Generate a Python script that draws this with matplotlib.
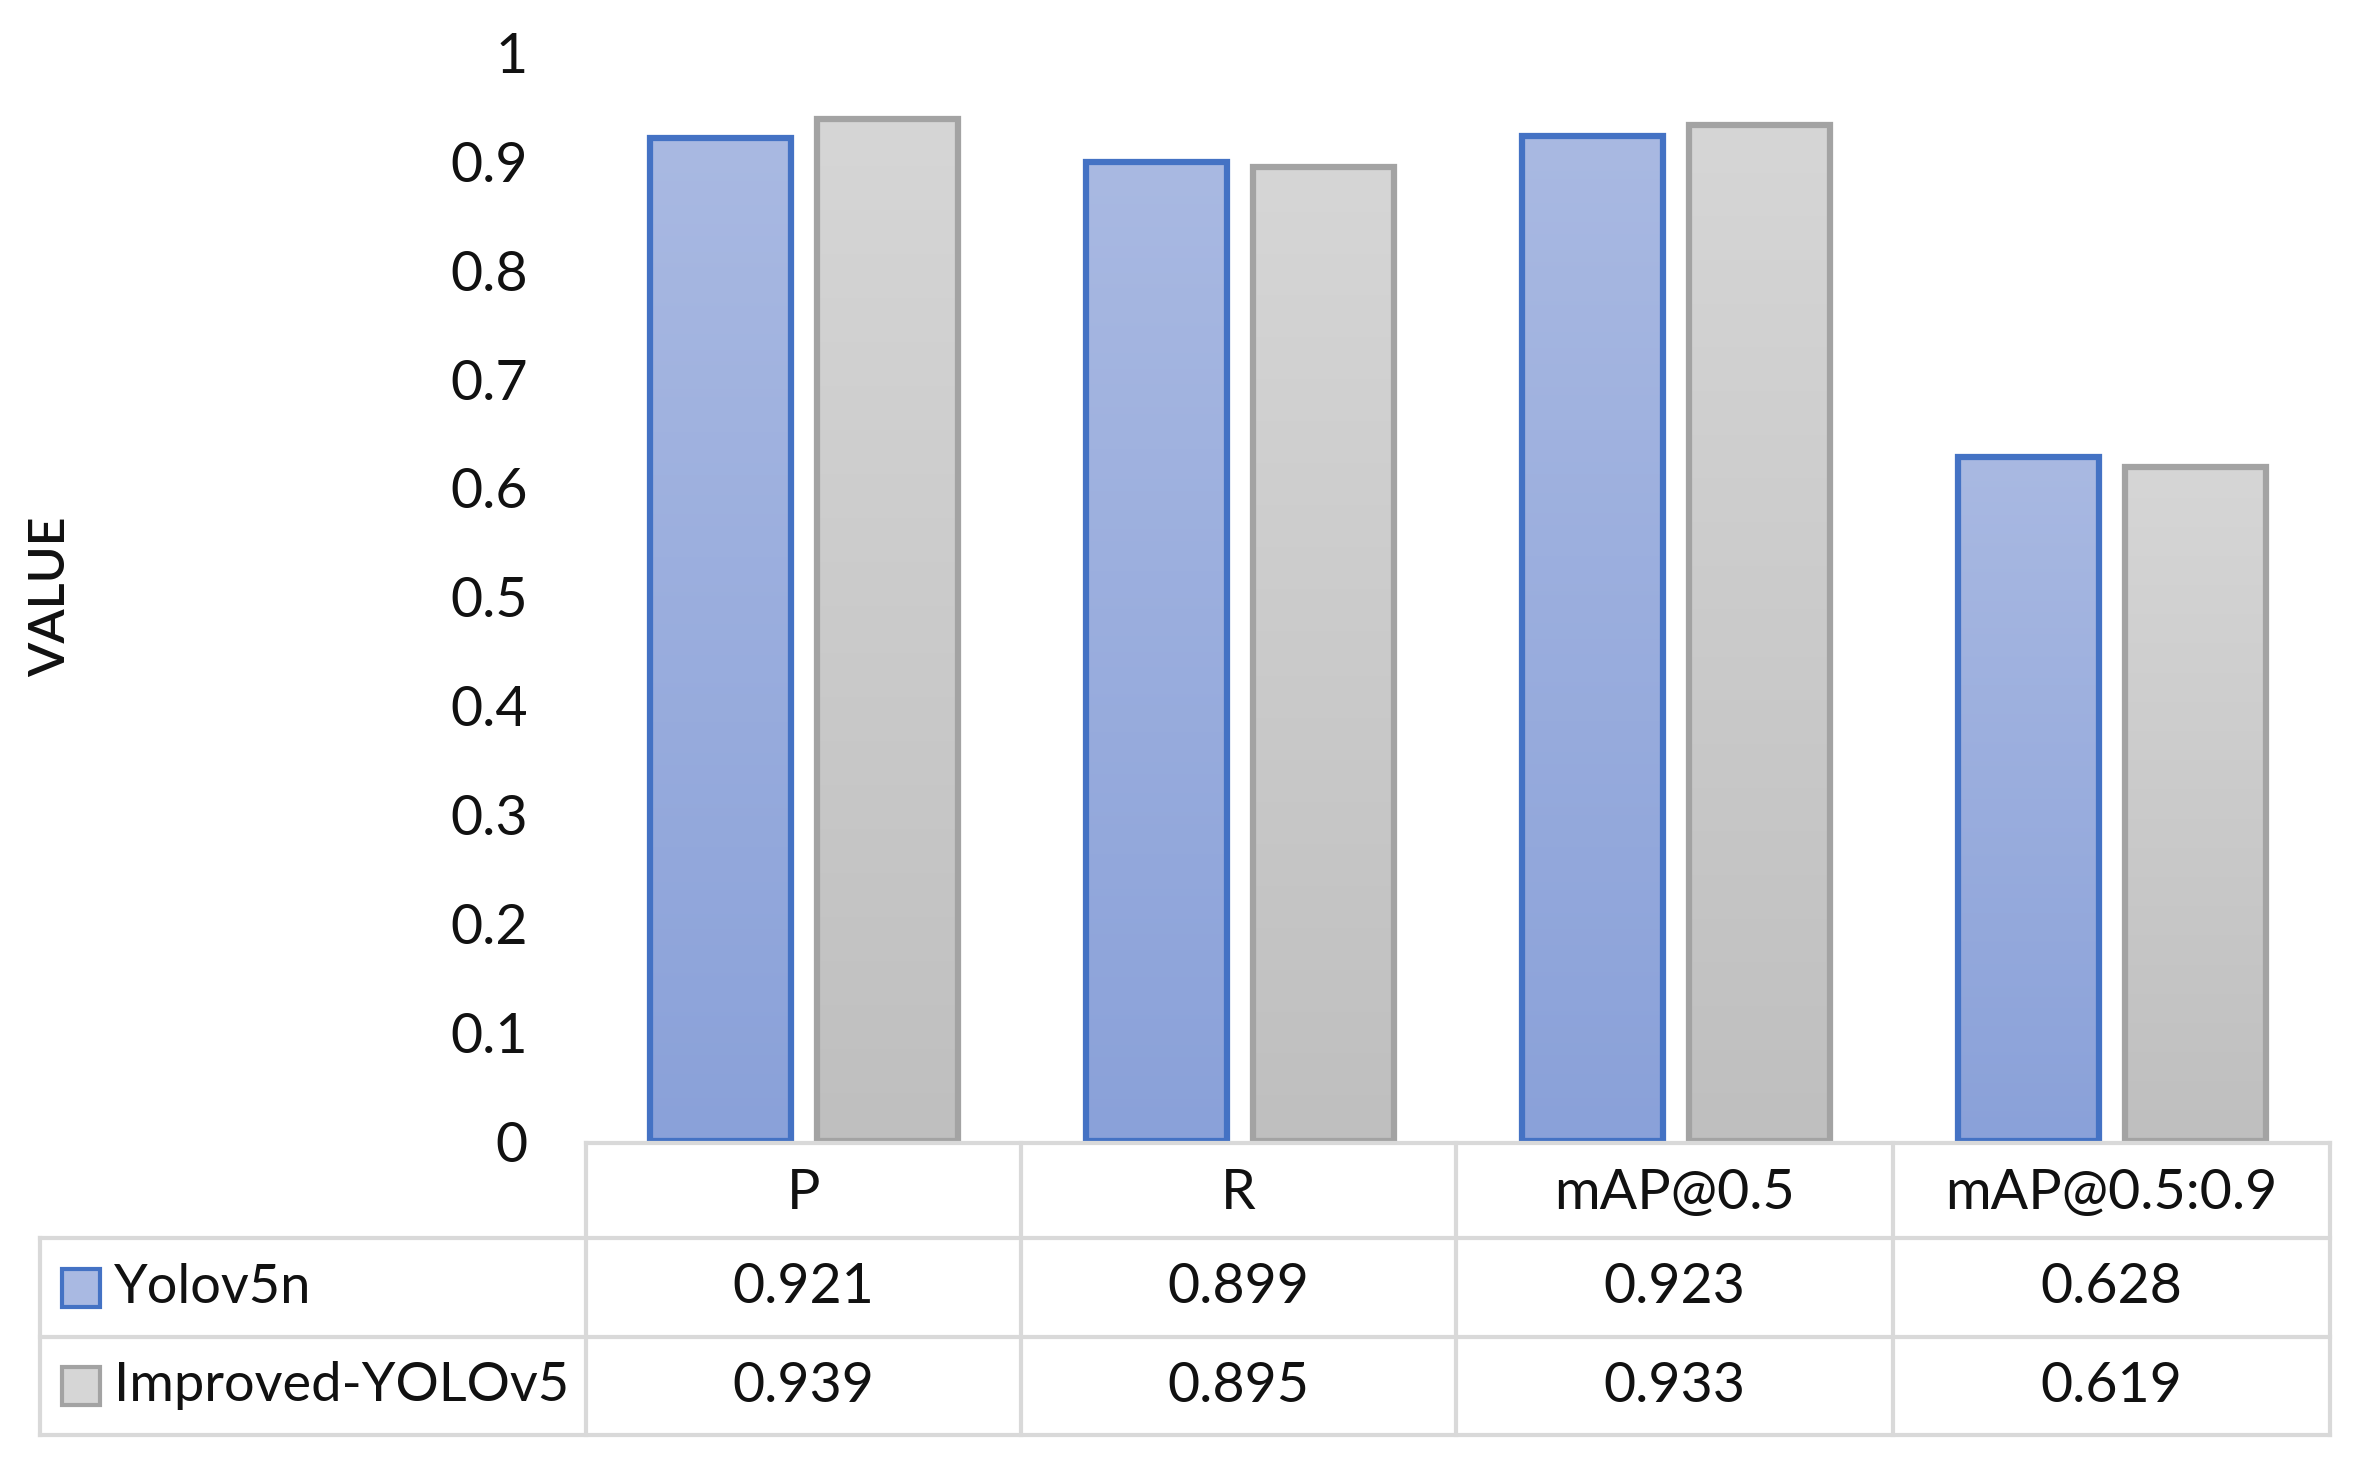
import matplotlib
matplotlib.use("Agg")
import matplotlib.pyplot as plt
import numpy as np
from matplotlib.patches import Rectangle
from matplotlib.colors import LinearSegmentedColormap

# ---- data ----
categories = ["P", "R", "mAP@0.5", "mAP@0.5:0.9"]
series_names = ["Yolov5n", "Improved-YOLOv5"]
yolov5n = [0.921, 0.899, 0.923, 0.628]
improved = [0.939, 0.895, 0.933, 0.619]
yticks = [0, 0.1, 0.2, 0.3, 0.4, 0.5, 0.6, 0.7, 0.8, 0.9, 1]
ytick_labels = ["0", "0.1", "0.2", "0.3", "0.4", "0.5", "0.6", "0.7", "0.8", "0.9", "1"]
y_label = "VALUE"

W, H = 2354, 1466
DPI = 100
plt.rcParams['font.family'] = ['Lato', 'DejaVu Sans']
TXT = "#111111"
FS = 40

fig = plt.figure(figsize=(W / DPI, H / DPI), dpi=DPI)

def fx(x):
    return x / W

def fy(y):
    return 1 - y / H

# axes: left 586, right 2330, y=1 at 52.5, y=0 at 1141
ax = fig.add_axes([fx(586), fy(1141), fx(2330) - fx(586), fy(52.5) - fy(1141)])

x = np.arange(len(categories))
bw = 0.324
off = 0.192
styles = [
    dict(edge="#4472C4", top="#A9B9E2", bottom="#8AA1D9"),
    dict(edge="#A3A3A3", top="#D6D6D6", bottom="#BFBFBF"),
]
for vals, sign, st in [(yolov5n, -1, styles[0]), (improved, 1, styles[1])]:
    bars = ax.bar(x + sign * off, vals, width=bw, facecolor="none",
                  edgecolor=st["edge"], linewidth=4.5, zorder=3)
    cmap = LinearSegmentedColormap.from_list("g", [st["bottom"], st["top"]])
    for b in bars:
        x0, w_, h_ = b.get_x(), b.get_width(), b.get_height()
        grad = np.linspace(0, 1, 256).reshape(-1, 1)
        im = ax.imshow(grad, cmap=cmap, aspect="auto", origin="lower",
                       extent=(x0, x0 + w_, 0, h_), zorder=2)
        im.set_clip_path(b)
ax.set_xlim(-0.5, len(categories) - 0.5)
ax.set_ylim(0, 1)

for s in ax.spines.values():
    s.set_visible(False)
ax.set_xticks([])
ax.set_yticks(yticks)
ax.set_yticklabels(ytick_labels, fontsize=FS, color=TXT)
ax.tick_params(axis="y", length=0, pad=42)

fig.text(fx(51), fy(597), y_label, rotation=90, ha="center", va="center",
         fontsize=36, fontweight="semibold", color=TXT)

# ---- data table ----
GRID = "#D9D9D9"
LW = 3.0
col_edges = [586, 1021, 1456, 1893, 2330]
row_edges = [1143, 1238, 1337, 1435]
left_edge = 40

def hline(y, x0, x1):
    fig.add_artist(plt.Line2D([fx(x0), fx(x1)], [fy(y), fy(y)], color=GRID, lw=LW))

def vline(xp, y0, y1):
    fig.add_artist(plt.Line2D([fx(xp), fx(xp)], [fy(y0), fy(y1)], color=GRID, lw=LW))

hline(row_edges[0], col_edges[0], col_edges[-1])
for r in row_edges[1:]:
    hline(r, left_edge, col_edges[-1])
for c in col_edges:
    vline(c, row_edges[0], row_edges[-1])
vline(left_edge, row_edges[1], row_edges[-1])

for i, cat in enumerate(categories):
    cx = (col_edges[i] + col_edges[i + 1]) / 2
    fig.text(fx(cx), fy((row_edges[0] + row_edges[1]) / 2 + 3), cat,
             ha="center", va="center", fontsize=FS, color=TXT)

rows = [yolov5n, improved]
for r, (name, vals, st) in enumerate(zip(series_names, rows, styles)):
    ymid = (row_edges[r + 1] + row_edges[r + 2]) / 2
    for i, v in enumerate(vals):
        cx = (col_edges[i] + col_edges[i + 1]) / 2
        fig.text(fx(cx), fy(ymid), f"{v:.3f}", ha="center", va="center",
                 fontsize=FS, color=TXT)
    # legend key
    fig.add_artist(Rectangle((fx(62), fy(ymid + 19)), fx(38), fy(0) - fy(38),
                             transform=fig.transFigure, facecolor=st["top"],
                             edgecolor=st["edge"], linewidth=3))
    fig.text(fx(114), fy(ymid), name, ha="left", va="center",
             fontsize=39, color=TXT)

fig.savefig("out.png", dpi=DPI, facecolor="white")
